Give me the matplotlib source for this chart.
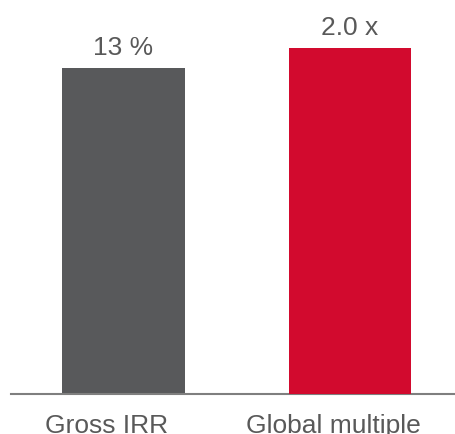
import matplotlib.pyplot as plt

# data
categories = ['Gross IRR', 'Global multiple']
values = [13, 2.0]
value_labels = ['13 %', '2.0 x']
colors = ['#58595b', '#d20a2e']

plt.rcParams['font.family'] = ['Liberation Sans', 'DejaVu Sans']

fig = plt.figure(figsize=(4.56, 4.34), dpi=100)
ax1 = fig.add_axes([11 / 456, 40 / 434, 445 / 456, 394 / 434])
# the two measures have their own scale
ax2 = ax1.twinx()

ax1.bar(0, values[0], width=0.543, color=colors[0])
ax2.bar(1, values[1], width=0.543, color=colors[1])
ax1.set_ylim(0, 15.71)
ax2.set_ylim(0, 2.277)

for ax, x, v, lab in [(ax1, 0, values[0], value_labels[0]), (ax2, 1, values[1], value_labels[1])]:
    ax.annotate(lab, (x, v), xytext=(0, 9), textcoords='offset points',
                ha='center', va='baseline', fontsize=19, color='#595959')

# category labels sit a bit left of the bar centres
for x, cat in enumerate(categories):
    ax1.annotate(cat, (x, 0), xytext=(-12, -28), textcoords='offset points',
                 ha='center', va='baseline', fontsize=19, color='#595959',
                 annotation_clip=False)

ax1.set_xlim(-0.497, 1.468)
for ax in (ax1, ax2):
    ax.set_xticks([])
    ax.set_yticks([])
    for s in ['top', 'right', 'left', 'bottom']:
        ax.spines[s].set_visible(False)
ax1.spines['bottom'].set_visible(True)
ax1.spines['bottom'].set_color('#7f7f7f')
ax1.spines['bottom'].set_linewidth(1.5)

fig.savefig('out.png', dpi=100)
